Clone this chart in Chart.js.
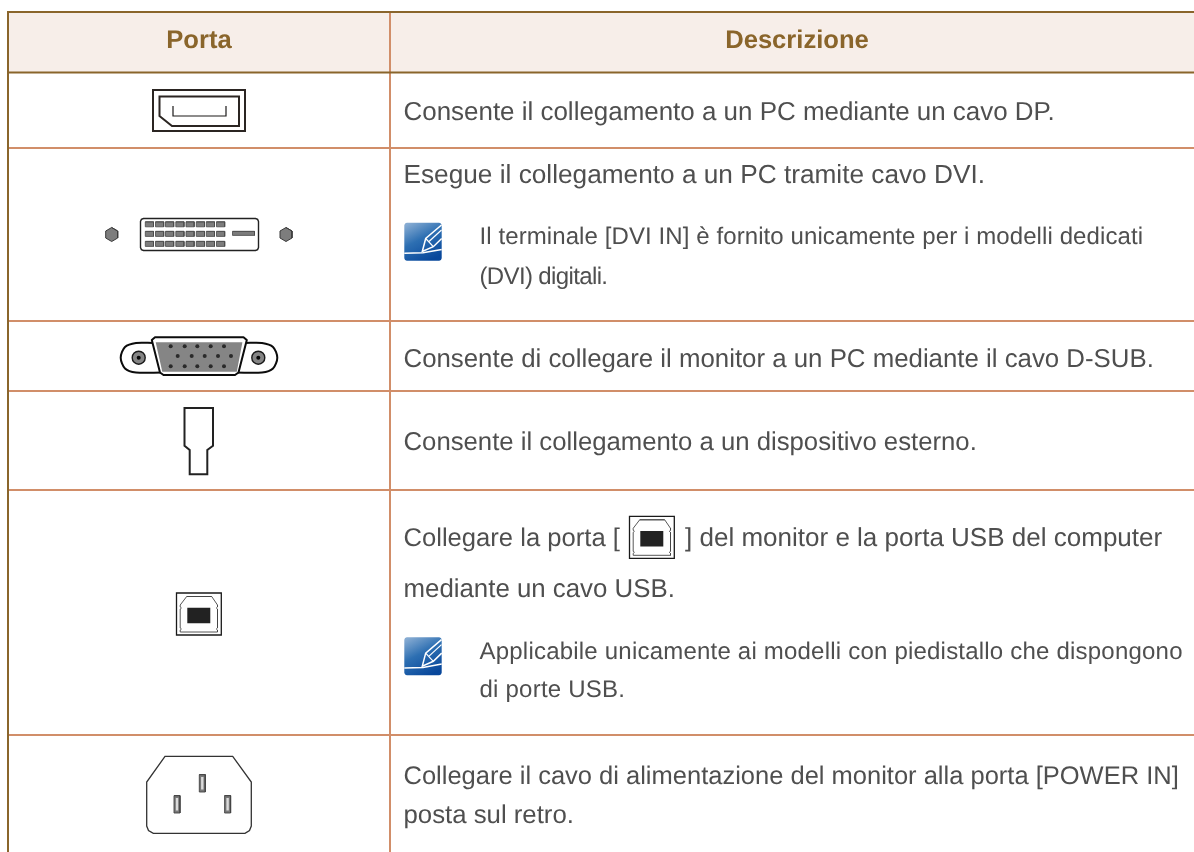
<!DOCTYPE html>
<html>
<head>
<meta charset="utf-8">
<title>Porta / Descrizione</title>
<script src="https://cdn.jsdelivr.net/npm/chart.js@4"></script>
<style>
body { margin: 0; background: #fff; }
canvas { display: block; }
</style>
</head>
<body>
<canvas id="chart" width="1194" height="852"></canvas>
<script>
// -------------------- table content --------------------//
var headerLabels = ["Porta", "Descrizione"];
var bodyLines = [
    "Consente il collegamento a un PC mediante un cavo DP.",
    "Esegue il collegamento a un PC tramite cavo DVI.",
    "Il terminale [DVI IN] è fornito unicamente per i modelli dedicati",
    "(DVI) digitali.",
    "Consente di collegare il monitor a un PC mediante il cavo D-SUB.",
    "Consente il collegamento a un dispositivo esterno.",
    "Collegare la porta [",
    "] del monitor e la porta USB del computer",
    "mediante un cavo USB.",
    "Applicabile unicamente ai modelli con piedistallo che dispongono",
    "di porte USB.",
    "Collegare il cavo di alimentazione del monitor alla porta [POWER IN]",
    "posta sul retro."
];
var bodyLeft  = [403.5, 403.5, 479.5, 479.5, 403.5, 403.5, 403.5, 685, 403.5, 479.5, 479.5, 403.5, 403.5];
var bodyRight = [1055, 985, 1143, 608, 1154, 977, 620, 1162.5, 675, 1182.5, 625, 1179, 574];
var bodyBase  = [119.5, 182.5, 244, 284, 366.5, 449.5, 545.5, 545.5, 596.5, 658.5, 697, 784, 822.5];
var noteLines = [2, 3, 9, 10]; // these sit next to the blue note icon

// table rules, in picture units
var tableLeft = 8, tableTop = 12, headerBottom = 72.5, columnRule = 390;
var rowRules = [148, 321, 391, 490, 735];

// -------------------- helpers --------------------//
var BROWN = "#8a652b", SALMON = "#d18e69";
var sets = [];

function toPts(p) { return p.map(function (q) { return { x: q[0], y: q[1] }; }); }
function shift(p, dx, dy) { return p.map(function (q) { return [q[0] + dx, q[1] + dy]; }); }
function closed(p) { return p.concat([p[0], p[1]]); }
function box(x0, y0, x1, y1) { return [[x0, y0], [x1, y0], [x1, y1], [x0, y1]]; }

function stroke(p, color, width, tension) {
    sets.push({ data: toPts(p), showLine: true, fill: false, borderColor: color, borderWidth: width,
        tension: tension || 0, borderJoinStyle: "miter", pointRadius: 0, clip: false });
}
function shape(p, fillColor, color, width) {
    sets.push({ data: toPts(closed(p)), showLine: true, fill: "shape", backgroundColor: fillColor,
        borderColor: color || "rgba(0,0,0,0)", borderWidth: width || 0,
        borderJoinStyle: "round", pointRadius: 0, clip: false });
}
function dots(p, r, fillColor, color, width) {
    sets.push({ data: toPts(p), showLine: false, pointRadius: r, pointBackgroundColor: fillColor,
        pointBorderColor: color || fillColor, pointBorderWidth: width || 0, clip: false });
}
function softBox(x0, y0, x1, y1, c) {
    return [[x0 + c, y0], [x1 - c, y0], [x1 - c * 0.3, y0 + c * 0.3], [x1, y0 + c], [x1, y1 - c],
        [x1 - c * 0.3, y1 - c * 0.3], [x1 - c, y1], [x0 + c, y1], [x0 + c * 0.3, y1 - c * 0.3],
        [x0, y1 - c], [x0, y0 + c], [x0 + c * 0.3, y0 + c * 0.3]];
}

// -------------------- table --------------------//
shape(box(tableLeft, tableTop, 1194, headerBottom), "#f7eee9");
rowRules.forEach(function (y) { stroke([[tableLeft, y], [1194, y]], SALMON, 2); });
stroke([[columnRule, tableTop], [columnRule, 852]], SALMON, 2);
stroke([[tableLeft, tableTop], [1194, tableTop]], BROWN, 2);
stroke([[tableLeft, headerBottom], [1194, headerBottom]], BROWN, 2);
stroke([[tableLeft, tableTop - 1], [tableLeft, 852]], BROWN, 2);

// -------------------- port icons --------------------//
// displayport
stroke(closed(box(153, 90, 245, 131)), "#2b2522", 2);
stroke(closed([[159.5, 96.5], [239, 96.5], [239, 126], [172, 126], [159.5, 116]]), "#2b2522", 2);
stroke([[173, 106], [173, 116], [226, 116], [226, 106]], "#1c1a19", 1.2);

// dvi
function hexagon(cx, cy) {
    return [[cx, cy - 7], [cx + 6, cy - 3.5], [cx + 6, cy + 3.5], [cx, cy + 7], [cx - 6, cy + 3.5], [cx - 6, cy - 3.5]];
}
shape(hexagon(111.7, 234.5), "#7d7d7d", "#3a3a3a", 1);
shape(hexagon(286, 234.5), "#7d7d7d", "#3a3a3a", 1);
stroke(closed(softBox(140.5, 218.5, 258.5, 250.5, 3)), "#222", 1.4);
[221.8, 231.4, 241.4].forEach(function (y) {
    [145.3, 155.5, 165.5, 175.8, 186, 196.3, 206.3, 216.5].forEach(function (x) {
        shape(box(x, y, x + 8.2, y + 5), "#7c7c7c", "#4a4a4a", 0.8);
    });
});
shape(box(232.5, 231.4, 254.5, 235.4), "#7c7c7c", "#4a4a4a", 0.8);

// vga
var vgaEar = [[153, 343], [136, 343], [125, 347], [120.7, 357.7], [125, 368.5], [136, 372.5], [162, 372.5]];
stroke(vgaEar, "#0c0c0c", 2, 0.3);
stroke(vgaEar.map(function (q) { return [398 - q[0], q[1]]; }), "#0c0c0c", 2, 0.3);
shape([[155, 337.3], [243.5, 337.3], [246.8, 340], [238.5, 372.5], [235, 375], [163.5, 375], [160, 372.5], [151.8, 340]], "#fff", "#0c0c0c", 2);
shape([[155.7, 342.3], [242.4, 342.3], [236.8, 371.7], [162.3, 371.7]], "#858585");
dots([[138.7, 357.7], [258.3, 357.7]], 6.5, "#858585", "#1a1a1a", 1.4);
dots([[138.7, 357.7], [258.3, 357.7]], 2, "#050505");
var vgaOuterPins = [170.7, 184.7, 197.3, 210.7, 224];
var vgaInnerPins = [177.7, 191.7, 204.7, 218, 231];
dots(vgaOuterPins.map(function (x) { return [x, 346.3]; }), 2, "#2a2a2a");
dots(vgaInnerPins.map(function (x) { return [x, 356]; }), 2, "#2a2a2a");
dots(vgaOuterPins.map(function (x) { return [x, 366.3]; }), 2, "#2a2a2a");

// headphone-style port
stroke(closed([[184.5, 408], [213, 408], [213, 445.7], [207.3, 450], [207.3, 474.3], [189.7, 474.3], [189.7, 450], [184.5, 445.7]]), "#222", 2);

// usb b, used in the cell and again inline in the text
function usbIcon(dx, dy) {
    stroke(closed(shift(box(176.5, 593, 221.3, 635), dx, dy)), "#1a1a1a", 1.3);
    stroke(closed(shift([[186.7, 596.5], [211.7, 596.5], [217.5, 605], [217.5, 607], [216.3, 608], [217.5, 609],
        [217.5, 628], [216.3, 629], [217.5, 630], [217.5, 632], [180.2, 632], [180.2, 630], [181.4, 629], [180.2, 628],
        [180.2, 609], [181.4, 608], [180.2, 607], [180.2, 605]], dx, dy)), "#444", 0.9);
    shape(shift(box(187.3, 607.7, 210.3, 623.3), dx, dy), "#222");
}
usbIcon(0, 0);
usbIcon(453, -76.7);

// power inlet
stroke(closed([[165, 756.3], [232.7, 756.3], [251.3, 782], [251.3, 826], [249.5, 830.5], [245, 833.3],
    [153.3, 833.3], [148.5, 830.5], [146.7, 826], [146.7, 782]]), "#333", 1.3);
[[199.3, 774.6], [174, 795.6], [224.6, 795.6]].forEach(function (q) {
    shape(box(q[0], q[1], q[0] + 6, q[1] + 17.4), "#777", "#444", 0.9);
    shape(box(q[0] + 1.8, q[1] + 2.5, q[0] + 4.2, q[1] + 15), "#dcdcdc");
});

// -------------------- note icons --------------------//
var canvas = document.querySelector("#chart");
var ctx = canvas.getContext("2d");

function noteIcon(dy) {
    var grad = ctx.createLinearGradient(410, 222.7 + dy, 430, 260.7 + dy);
    grad.addColorStop(0, "#86abd2");
    grad.addColorStop(0.45, "#2d6fb2");
    grad.addColorStop(1, "#08479b");
    shape(shift(softBox(404.3, 222.7, 441.7, 260.7, 2.5), 0, dy), grad);
    stroke(shift([[404.3, 253.3], [423, 252.8], [441.7, 249.5]], 0, dy), "#fff", 1.5);
    stroke(shift([[441.5, 225], [425.7, 238.5], [422.3, 251.5], [433.3, 246.7], [441.7, 238.5]], 0, dy), "#fff", 1.5);
    stroke(shift([[425.7, 238.5], [433.3, 246.7]], 0, dy), "#fff", 1.2);
    stroke(shift([[429, 241.5], [441.5, 230]], 0, dy), "#fff", 1.2);
}
noteIcon(0);
noteIcon(414.6);

// paint order follows the order of the list above
sets.forEach(function (s, i) { s.order = sets.length - i; s.label = "s" + i; });

// -------------------- text --------------------//
var cellText = {
    id: "cellText",
    afterDatasetsDraw: function (chart) {
        var c = chart.ctx, sx = chart.scales.x, sy = chart.scales.y;
        c.save();
        c.textBaseline = "alphabetic";
        c.textRendering = "geometricPrecision";

        c.fillStyle = "#8a652b";
        c.font = "bold 25.6px 'Liberation Sans'";
        c.textAlign = "center";
        c.fillText(headerLabels[0], sx.getPixelForValue(199), sy.getPixelForValue(48));
        c.fillText(headerLabels[1], sx.getPixelForValue(797), sy.getPixelForValue(48));

        c.fillStyle = "#4f4f4f";
        c.textAlign = "left";
        bodyLines.forEach(function (t, i) {
            var target = bodyRight[i] - bodyLeft[i];
            c.letterSpacing = "0px";
            c.font = "25px 'Liberation Sans'";
            var w = c.measureText(t).width;
            if (noteLines.indexOf(i) >= 0) {
                // note lines keep one size and take up the difference in tracking
                c.font = "24px 'Liberation Sans'";
                w = c.measureText(t).width;
                c.letterSpacing = ((target - w) / (t.length - 1)).toFixed(3) + "px";
            } else {
                c.font = (25 * target / w).toFixed(2) + "px 'Liberation Sans'";
            }
            c.fillText(t, sx.getPixelForValue(bodyLeft[i]), sy.getPixelForValue(bodyBase[i]));
        });
        c.restore();
    }
};

var chart = new Chart(ctx, {
    type: "scatter",
    data: { datasets: sets },
    plugins: [cellText],
    options: {
        responsive: false,
        animation: false,
        events: [],
        layout: { padding: 0, autoPadding: false },
        plugins: { legend: { display: false }, tooltip: { enabled: false } },
        scales: {
            x: { type: "linear", min: 0, max: 1194, display: false },
            y: { type: "linear", min: 0, max: 852, reverse: true, display: false }
        }
    }
});
</script>
</body>
</html>
